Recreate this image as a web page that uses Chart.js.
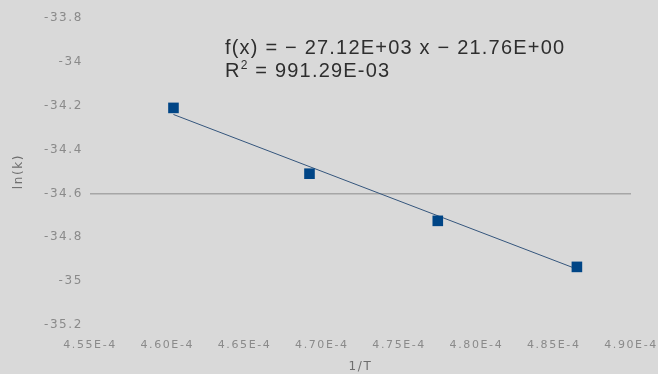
<!DOCTYPE html>
<html>
<head>
<meta charset="utf-8">
<script src="https://cdn.jsdelivr.net/npm/chart.js@4"></script>
<style>
    html, body { margin: 0; padding: 0; background: #d9d9d9; }
    #wrap { position: relative; width: 658px; height: 374px; }
    #eq {
        position: absolute; left: 225px; top: 36px;
        font-family: "Liberation Sans", sans-serif; font-size: 20px; line-height: 23px;
        letter-spacing: 1.2px; color: #2e2e2e; white-space: nowrap;
    }
</style>
</head>
<body>
<div id="wrap">
    <canvas id="chart" width="658" height="374"></canvas>
    <div id="eq">f(x) = − 27.12E+03 x − 21.76E+00<br>R<sup style="font-size:12px;vertical-align:8px;line-height:0">2</sup> = 991.29E-03</div>
</div>
<script>
// measured points (1/T, ln(k))
const invT = [4.604e-4, 4.692e-4, 4.775e-4, 4.865e-4];
const lnK = [-34.21, -34.51, -34.725, -34.935];

// linear trendline end points
const trendX = [4.604e-4, 4.865e-4];
const trendY = [-34.24, -34.945];

// axis ranges / ticks
const xTicks = [4.55e-4, 4.60e-4, 4.65e-4, 4.70e-4, 4.75e-4, 4.80e-4, 4.85e-4, 4.90e-4];
const yTicks = [-35.2, -35, -34.8, -34.6, -34.4, -34.2, -34, -33.8];
const yLine = -34.6; // the one horizontal line drawn across the plot

const tickColor = '#8a8a8a';

const points = invT.map((x, i) => ({ x: x, y: lnK[i] }));
const trend = trendX.map((x, i) => ({ x: x, y: trendY[i] }));

// the labels in the picture are drawn wide, so space the letters out a bit
const spacing = {
    id: 'spacing',
    beforeUpdate(chart) { chart.ctx.letterSpacing = '1.6px'; }
};

new Chart(document.getElementById('chart'), {
    type: 'scatter',
    plugins: [spacing],
    data: {
        datasets: [
            {
                label: 'ln(k)',
                data: points,
                pointStyle: 'rect',
                pointRadius: 7.5,
                backgroundColor: '#004586',
                borderColor: '#004586',
                borderWidth: 0,
                order: 1
            },
            {
                label: 'trend',
                type: 'line',
                data: trend,
                showLine: true,
                borderColor: '#34557c',
                borderWidth: 1,
                pointRadius: 0,
                fill: false,
                order: 2
            }
        ]
    },
    options: {
        responsive: false,
        animation: false,
        layout: { padding: { top: 18, right: 27, left: 0, bottom: 0 } },
        plugins: { legend: { display: false }, tooltip: { enabled: false } },
        scales: {
            x: {
                type: 'linear',
                min: xTicks[0],
                max: xTicks[xTicks.length - 1],
                afterBuildTicks: (axis) => { axis.ticks = xTicks.map(v => ({ value: v })); },
                afterFit: (axis) => { axis.height = 49; axis.paddingLeft = 0; axis.paddingRight = 0; },
                grid: { display: false, drawTicks: false },
                border: { display: false },
                ticks: {
                    color: tickColor, font: { family: 'DejaVu Sans', size: 11 }, padding: 14, maxRotation: 0,
                    callback: (v) => (v * 1e4).toFixed(2) + 'E-4'
                },
                title: {
                    display: true, text: '1/T', color: '#6e6e6e',
                    font: { family: 'DejaVu Sans', size: 12 }, padding: { top: 2, bottom: 0 }
                }
            },
            y: {
                type: 'linear',
                min: yTicks[0],
                max: yTicks[yTicks.length - 1],
                afterBuildTicks: (axis) => { axis.ticks = yTicks.map(v => ({ value: v })); },
                afterFit: (axis) => { axis.width = 90; axis.paddingTop = 0; axis.paddingBottom = 0; },
                grid: {
                    drawTicks: false,
                    lineWidth: 1.5,
                    color: (ctx) => (ctx.tick && Math.abs(ctx.tick.value - yLine) < 1e-6) ? '#a6a6a6' : 'rgba(0,0,0,0)'
                },
                border: { display: false },
                ticks: {
                    color: tickColor, font: { family: 'DejaVu Sans', size: 12 }, padding: 7,
                    callback: (v) => String(Math.round(v * 10) / 10)
                },
                title: {
                    display: true, text: 'ln(k)', color: '#6e6e6e',
                    font: { family: 'DejaVu Sans', size: 12 }, padding: { top: 12, bottom: 0 }
                }
            }
        }
    }
});
</script>
</body>
</html>
